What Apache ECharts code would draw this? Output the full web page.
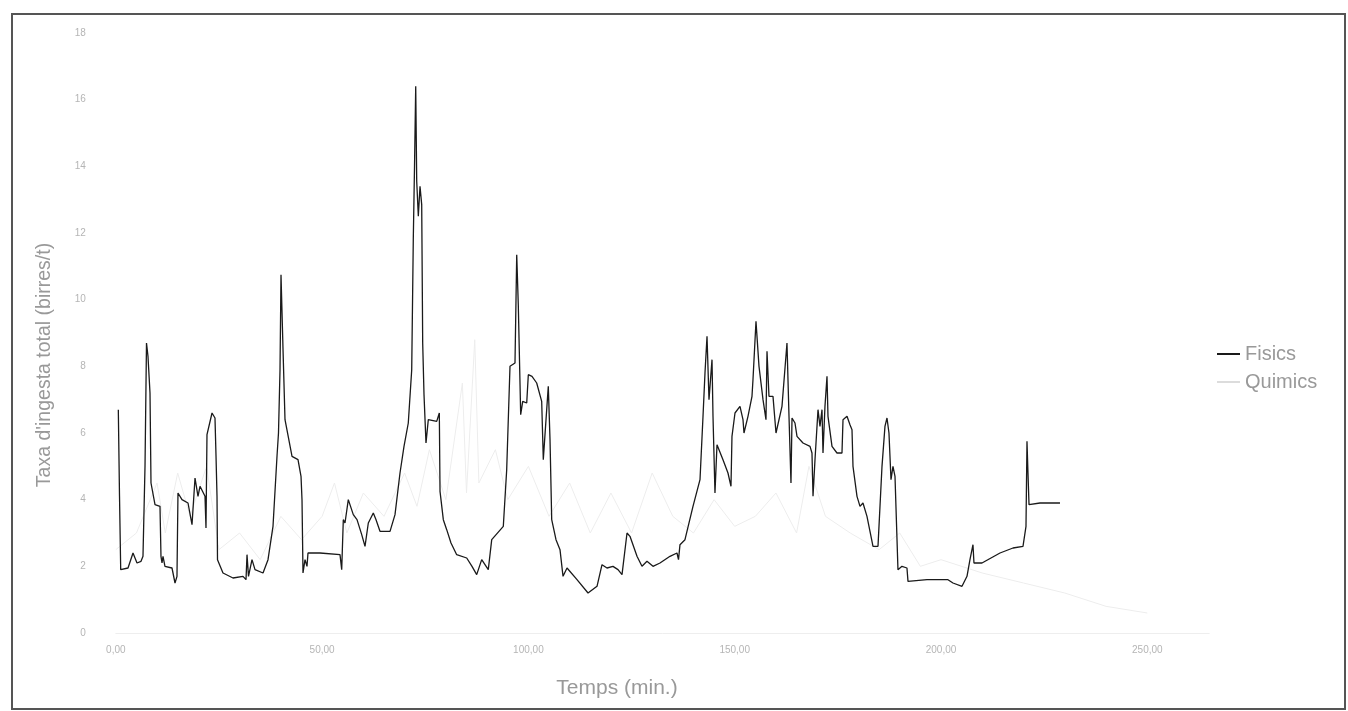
<!DOCTYPE html>
<html>
<head>
<meta charset="utf-8">
<script src="https://cdn.jsdelivr.net/npm/echarts@6/dist/echarts.min.js"></script>
<style>html,body{margin:0;padding:0;background:#fff;}#c{width:1348px;height:711px;}</style>
</head>
<body>
<div id="c"></div>
<script>
// Time (min) of each Fisics reading
const fisicsT = [0.61,0.90,1.19,2.96,4.17,5.14,6.11,6.59,7.08,7.44,7.80,8.29,8.53,9.50,10.71,10.95,11.20,11.44,11.92,13.62,14.35,14.83,15.07,16.04,17.50,18.47,19.20,19.92,20.41,21.62,21.86,22.10,23.32,24.04,24.29,24.53,24.65,25.98,28.41,30.83,31.56,31.80,32.16,33.01,33.74,35.68,36.89,38.10,39.07,39.43,39.80,40.04,40.53,41.01,42.71,44.16,44.89,45.13,45.37,45.86,46.34,46.58,49.49,
 54.34,54.75,55.14,55.55,56.35,57.56,58.46,59.60,60.40,61.20,62.41,63.07,64.03,66.46,67.67,68.88,69.85,70.89,71.72,72.10,72.40,72.69,72.93,73.32,73.73,74.14,74.38,74.70,75.18,75.74,77.78,78.41,78.58,79.38,80.20,81.24,82.62,85.05,86.33,87.47,88.68,90.28,91.11,93.92,94.74,95.54,96.75,97.17,97.55,98.13,98.62,99.59,99.98,100.87,102.01,103.22,103.61,104.82,105.24,105.65,106.69,107.66,108.39,109.36,
 111.78,114.45,116.63,117.84,119.05,120.50,121.72,122.69,123.90,124.62,126.32,127.53,128.74,130.20,131.89,134.32,136.01,136.38,136.74,137.95,139.89,141.59,142.32,142.80,143.29,143.77,144.50,144.74,145.22,145.71,147.16,148.37,149.10,149.34,150.07,151.28,152.01,152.25,153.22,154.19,154.43,155.16,155.89,156.86,157.58,157.83,158.31,159.28,160.01,161.46,162.67,163.16,163.64,163.89,164.61,165.10,166.55,168.25,168.73,168.98,169.46,170.19,170.67,171.16,171.40,171.88,172.37,172.61,173.58,174.79,176.00,176.25,177.22,177.94,178.43,178.67,179.64,180.37,181.09,182.06,183.52,184.73,185.70,186.42,186.91,187.39,187.88,188.36,188.85,189.57,190.54,191.75,192.00,192.48,196.60,201.69,202.90,205.09,206.30,207.02,207.75,207.99,209.93,214.30,217.45,219.87,220.60,220.84,221.08,221.33,223.99,228.84];
// Fisics intake rate values
const fisicsV = [6.7,4.1,1.9,1.95,2.4,2.1,2.15,2.3,5.0,8.7,8.3,7.2,4.5,3.85,3.8,2.3,2.1,2.3,2.0,1.95,1.5,1.7,4.2,4.0,3.9,3.25,4.65,4.1,4.4,4.1,3.15,5.95,6.6,6.45,5.3,4.1,2.2,1.8,1.65,1.7,1.6,2.35,1.7,2.2,1.9,1.8,2.2,3.2,5.3,6.0,7.9,10.75,8.5,6.4,5.3,5.2,4.7,4.0,1.8,2.2,2.0,2.4,2.4,
 2.35,1.9,3.4,3.3,4.0,3.55,3.4,2.95,2.6,3.3,3.6,3.4,3.05,3.05,3.55,4.8,5.6,6.3,7.9,11.8,14.0,16.4,13.55,12.5,13.4,12.85,8.7,7.15,5.7,6.4,6.35,6.6,4.25,3.4,3.1,2.7,2.35,2.25,2.0,1.75,2.2,1.9,2.8,3.2,4.9,8.0,8.1,11.35,9.85,6.55,6.95,6.9,7.75,7.7,7.5,6.95,5.2,7.4,5.8,3.4,2.8,2.5,1.7,1.95,
 1.6,1.2,1.4,2.05,1.95,2.0,1.9,1.75,3.0,2.9,2.3,2.0,2.15,2.0,2.1,2.3,2.4,2.2,2.65,2.8,3.8,4.6,6.5,7.8,8.9,7.0,8.2,6.5,4.2,5.65,5.2,4.8,4.4,5.9,6.6,6.8,6.4,6.0,6.5,7.1,7.6,9.35,8.0,7.0,6.4,8.45,7.1,7.1,6.0,6.8,8.7,6.5,4.5,6.45,6.3,5.9,5.7,5.6,5.4,4.1,5.2,6.7,6.2,6.7,5.4,6.8,7.7,6.5,5.6,5.4,5.4,6.4,6.5,6.25,6.1,5.0,4.1,3.8,3.9,3.5,2.6,2.6,5.0,6.2,6.45,6.0,4.6,5.0,4.7,1.9,2.0,1.95,1.55,1.6,1.6,1.6,1.5,1.4,1.7,2.2,2.65,2.1,2.1,2.4,2.55,2.6,3.2,5.75,4.8,3.85,3.9,3.9];
// Quimics (very faint in the reference)
const quimicsT = [0,5,10,12,15,18,22,25,30,35,40,45,50,53,56,60,65,70,73,76,80,84,85,87,88,92,95,100,105,110,115,120,125,130,135,140,145,150,155,160,165,168,172,178,185,190,195,200,210,220,230,240,250];
const quimicsV = [2.5,3,4.5,3,4.8,3.5,5,2.5,3,2.2,3.5,2.8,3.5,4.5,3,4.2,3.5,4.8,3.8,5.5,4,7.5,4.2,8.8,4.5,5.5,4,5,3.5,4.5,3,4.2,3,4.8,3.5,3,4,3.2,3.5,4.2,3,5,3.5,3,2.5,3,2,2.2,1.8,1.5,1.2,0.8,0.6];
const xTicks = [0,50,100,150,200,250];
const xTickLabels = ['0,00','50,00','100,00','150,00','200,00','250,00'];
const yTicks = [0,2,4,6,8,10,12,14,16,18];
const seriesNames = ['Fisics','Quimics'];
const yTitle = "Taxa d'ingesta total (birres/t)";
const xTitle = 'Temps (min.)';

const zip = (a,b) => a.map((t,i)=>[t,b[i]]);
const chart = echarts.init(document.getElementById('c'));
chart.setOption({
  animation:false,
  backgroundColor:'#fff',
  grid:{left:115.8, top:33, bottom:78, width:4.126*265},
  legend:{
    orient:'vertical', left:1212, top:339, itemGap:8,
    itemWidth:23, itemHeight:2, icon:'rect',
    textStyle:{color:'#999', fontSize:20, fontFamily:'Liberation Sans'},
    data:seriesNames
  },
  xAxis:{
    type:'value', min:0, max:265, interval:50,
    axisLine:{show:true, lineStyle:{color:'#eee'}}, axisTick:{show:false}, splitLine:{show:false},
    axisLabel:{color:'#b5b5b5', fontSize:10, margin:12, showMaxLabel:false,
      formatter:v=>{const i=xTicks.indexOf(v);return i>=0?xTickLabels[i]:'';}}
  },
  yAxis:{
    type:'value', min:0, max:18, interval:2,
    axisLine:{show:false}, axisTick:{show:false}, splitLine:{show:false},
    axisLabel:{color:'#b5b5b5', fontSize:10, margin:30,
      formatter:v=>yTicks.includes(v)?String(v):''}
  },
  graphic:[
    {type:'rect', shape:{x:12,y:14,width:1333,height:695}, style:{fill:null, stroke:'#555', lineWidth:2}, silent:true},
    {type:'text', x:45, y:365, rotation:Math.PI/2, style:{text:yTitle, fill:'#999', fontSize:19.5, fontFamily:'Liberation Sans', align:'center', verticalAlign:'middle'}},
    {type:'text', x:617, y:688, style:{text:xTitle, fill:'#999', fontSize:21, fontFamily:'Liberation Sans', align:'center', verticalAlign:'middle'}}
  ],
  series:[
    {name:seriesNames[1], type:'line', data:zip(quimicsT,quimicsV), showSymbol:false, symbol:'none',
      lineStyle:{color:'#ededed', width:1}, itemStyle:{color:'#dcdcdc'}, z:1},
    {name:seriesNames[0], type:'line', data:zip(fisicsT,fisicsV), showSymbol:false, symbol:'none',
      lineStyle:{color:'#1a1a1a', width:1.3}, itemStyle:{color:'#1a1a1a'}, z:2}
  ]
});
</script>
</body>
</html>
